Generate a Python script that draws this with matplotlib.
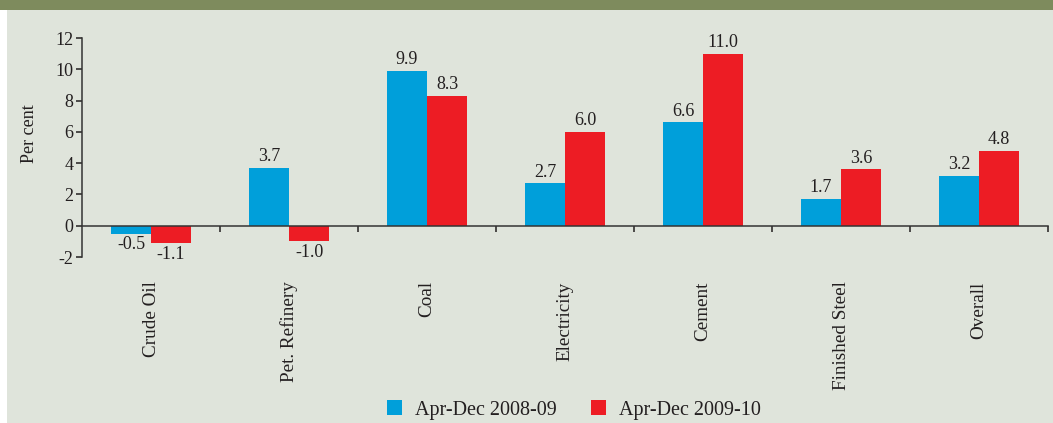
import numpy as np
import matplotlib
matplotlib.use('Agg')
import matplotlib.pyplot as plt
from matplotlib.patches import Rectangle, Patch

# data
categories = ['Crude Oil', 'Pet. Refinery', 'Coal', 'Electricity', 'Cement', 'Finished Steel', 'Overall']
growth_0809 = [-0.5, 3.7, 9.9, 2.7, 6.6, 1.7, 3.2]
growth_0910 = [-1.1, -1.0, 8.3, 6.0, 11.0, 3.6, 4.8]
series_names = ['Apr-Dec 2008-09', 'Apr-Dec 2009-10']
y_ticks = [-2, 0, 2, 4, 6, 8, 10, 12]

blue = '#009fda'
red = '#ed1c24'
panel = '#dfe4db'
band = '#7e8b5d'
txt = '#231f20'

plt.rcParams['font.family'] = ['Liberation Serif', 'DejaVu Serif']
plt.rcParams['axes.unicode_minus'] = False
plt.rcParams['text.color'] = txt
plt.rcParams['xtick.color'] = txt
plt.rcParams['ytick.color'] = txt

W, H = 1053, 423
fs = 13
fig = plt.figure(figsize=(W / 100, H / 100), dpi=100, facecolor='white')

# panel background and green strip on top
fig.patches.append(Rectangle((7 / W, 0), 1 - 7 / W, (H - 10) / H, transform=fig.transFigure,
                             facecolor=panel, edgecolor='none', zorder=-5))
fig.patches.append(Rectangle((0, (H - 10) / H), 1, 10 / H, transform=fig.transFigure,
                             facecolor=band, edgecolor='none', zorder=-5))

ax = fig.add_axes([82 / W, (H - 257) / H, (1048 - 82) / W, (257 - 38) / H])
ax.set_facecolor('none')

x = np.arange(len(categories)) + 0.5
bw = 0.29
b1 = ax.bar(x - bw / 2, growth_0809, bw, color=blue, zorder=2)
b2 = ax.bar(x + bw / 2, growth_0910, bw, color=red, zorder=2)
for bars in (b1, b2):
    ax.bar_label(bars, fmt='%.1f', padding=2, fontsize=fs, color=txt)

ax.set_xlim(0, len(categories))
ax.set_ylim(-2, 12)
ax.set_yticks(y_ticks)
ax.tick_params(axis='y', labelsize=fs, length=4, width=1.1, pad=2, direction='out')

# boundary ticks on the zero line, labels at group centres
ax.tick_params(axis='x', which='major', length=4, width=1.1, direction='out')
ax.tick_params(axis='x', which='minor', length=0, pad=40, labelsize=13.8, labelrotation=90)
ax.set_xticks(np.arange(1, len(categories) + 1))
ax.set_xticklabels([])
ax.set_xticks(x, minor=True)
ax.set_xticklabels(categories, minor=True)
for lab in ax.get_xticklabels(minor=True):
    lab.set_verticalalignment('top')

ax.spines['top'].set_visible(False)
ax.spines['right'].set_visible(False)
ax.spines['bottom'].set_position(('data', 0))
for s in ('left', 'bottom'):
    ax.spines[s].set_color('#333333')
    ax.spines[s].set_linewidth(1.1)
ax.spines['bottom'].set_zorder(3)

fig.text(29 / W, (H - 134) / H, 'Per cent', rotation=90, ha='center', va='center', fontsize=fs)

handles = [Patch(facecolor=blue), Patch(facecolor=red)]
fig.legend(handles, series_names, loc='center', bbox_to_anchor=(574 / W, (H - 410) / H),
           ncol=2, frameon=False, fontsize=14.5, handlelength=0.75, handleheight=0.75,
           handletextpad=0.65, columnspacing=1.7, borderpad=0)

fig.savefig('out.png', dpi=100, facecolor=fig.get_facecolor())
